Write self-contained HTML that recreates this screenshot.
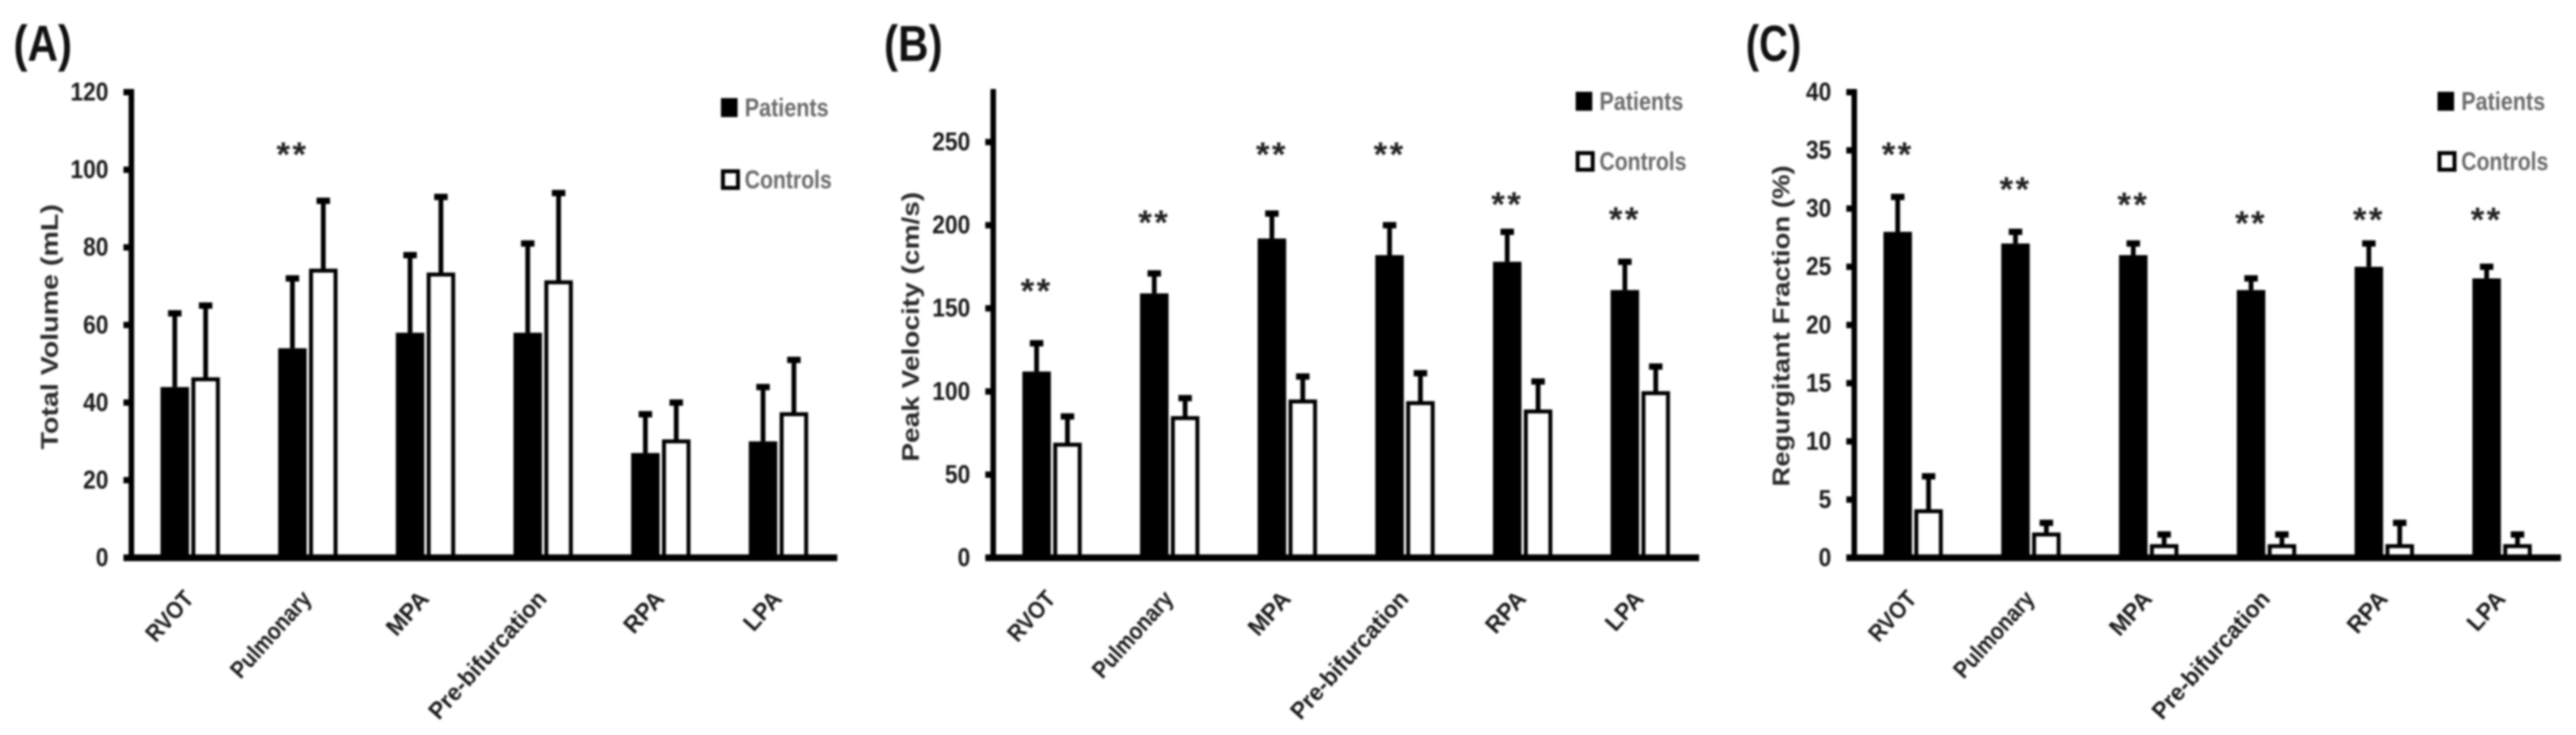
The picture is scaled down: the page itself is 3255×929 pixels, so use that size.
<!DOCTYPE html>
<html lang="en">
<head>
<meta charset="utf-8">
<title>Total Volume, Peak Velocity and Regurgitant Fraction</title>
<style>
html,body{margin:0;padding:0;background:#fff;width:3255px;height:929px;overflow:hidden}
svg{display:block;filter:blur(1.3px)}
text{font-family:"Liberation Sans",sans-serif}
</style>
</head>
<body>
<svg id="figure" xmlns="http://www.w3.org/2000/svg" width="3255" height="929" viewBox="0 0 3255 929"></svg>
<script>
const categories = ["RVOT", "Pulmonary", "MPA", "Pre-bifurcation", "RPA", "LPA"];

const volumeTicks = [0, 20, 40, 60, 80, 100, 120];
const volumePatients = [44, 54, 58, 58, 27, 30];
const volumePatientsTop = [63, 72, 78, 81, 37, 44];
const volumeControls = [46, 74, 73, 71, 30, 37];
const volumeControlsTop = [65, 92, 93, 94, 40, 51];
const volumeStars = [null, 105, null, null, null, null];

const velocityTicks = [0, 50, 100, 150, 200, 250];
const velocityPatients = [112, 159, 192, 182, 178, 161];
const velocityPatientsTop = [129, 171, 207, 200, 196, 178];
const velocityControls = [68, 84, 94, 93, 88, 99];
const velocityControlsTop = [85, 96, 109, 111, 106, 115];
const velocityStars = [163, 204, 245, 245, 215, 206];

const fractionTicks = [0, 5, 10, 15, 20, 25, 30, 35, 40];
const fractionPatients = [28, 27, 26, 23, 25, 24];
const fractionPatientsTop = [31, 28, 27, 24, 27, 25];
const fractionControls = [4, 2, 1, 1, 1, 1];
const fractionControlsTop = [7, 3, 2, 2, 3, 2];
const fractionStars = [35, 32, 30.7, 29.1, 29.4, 29.4];

const SVGNS = "http://www.w3.org/2000/svg";
const figure = document.getElementById("figure");
const categoryTextFit = {"RVOT": 74, "Pulmonary": 136, "MPA": 64, "Pre-bifurcation": 206, "RPA": 60, "LPA": 56};

function make(tag, attrs, parent, content) {
  const el = document.createElementNS(SVGNS, tag);
  for (const k in attrs) el.setAttribute(k, attrs[k]);
  if (content !== undefined) el.textContent = content;
  parent.appendChild(el);
  return el;
}

function drawPanel(cfg) {
  const top = 116.5, base = 705;
  const band = (cfg.right - cfg.left) / categories.length;
  const xCenter = i => cfg.left + band * (i + 0.5);
  const y = v => base - (v / cfg.max) * (base - top);
  const slug = cfg.slug;

  const panel = make("g", {}, figure);
  
  

  const letter = make("text", {x: cfg.letterX, y: 77, "font-size": 64, "font-weight": "bold", fill: "#111", textLength: cfg.letterLen, lengthAdjust: "spacingAndGlyphs"}, panel, cfg.letter);
  
  

  const title = make("text", {transform: "translate(" + cfg.titleX + "," + cfg.titleY + ") rotate(-90)", "text-anchor": "middle", "font-size": 31, "font-weight": "bold", fill: "#2a2a2a", textLength: cfg.titleLen, lengthAdjust: "spacingAndGlyphs"}, panel, cfg.title);
  
  

  cfg.ticks.forEach(t => {
    const mark = make("rect", {x: cfg.left - 10, y: y(t) - 4, width: 10, height: 8, fill: "#000"}, panel);
    
    
    const lab = make("text", {x: cfg.left - 29, y: y(t) + 10.5, "text-anchor": "end", "font-size": 32, "font-weight": "bold", fill: "#1a1a1a", textLength: String(t).length * 16, lengthAdjust: "spacingAndGlyphs"}, panel, String(t));
    
    
  });

  categories.forEach((c, i) => {
    const cx = xCenter(i);
    const pLeft = cx - 37.5, cLeft = cx + 1.5, w = 36;
    const pMid = cx - 19.5, cMid = cx + 19.5;

    const pErr = make("g", {fill: "#000"}, panel);
    
    
    make("rect", {x: pMid - 3, y: y(cfg.patientsTop[i]), width: 6, height: y(cfg.patients[i]) - y(cfg.patientsTop[i])}, pErr);
    make("rect", {x: pMid - 8.5, y: y(cfg.patientsTop[i]) - 4, width: 17, height: 8}, pErr);

    const cErr = make("g", {fill: "#000"}, panel);
    
    
    make("rect", {x: cMid - 3, y: y(cfg.controlsTop[i]), width: 6, height: y(cfg.controls[i]) - y(cfg.controlsTop[i])}, cErr);
    make("rect", {x: cMid - 8.5, y: y(cfg.controlsTop[i]) - 4, width: 17, height: 8}, cErr);

    const pBar = make("rect", {x: pLeft, y: y(cfg.patients[i]), width: w, height: base - y(cfg.patients[i]), fill: "#000"}, panel);
    
    

    const cBar = make("rect", {x: cLeft + 2.5, y: y(cfg.controls[i]), width: w - 5, height: Math.max(0, base - y(cfg.controls[i])), fill: "#fff", stroke: "#000", "stroke-width": 5}, panel);
    
    

    const cat = make("text", {transform: "translate(" + (cx + 6) + "," + (base + 53) + ") rotate(-48)", "text-anchor": "end", "font-size": 30, "font-weight": "bold", fill: "#1a1a1a", textLength: categoryTextFit[c], lengthAdjust: "spacingAndGlyphs"}, panel, c);
    
    

    if (cfg.stars[i] !== null) {
      const star = make("text", {x: pMid, y: y(cfg.stars[i]) + 20, "text-anchor": "middle", "font-size": 44, "font-weight": "bold", "letter-spacing": 3, fill: "#222"}, panel, "**");
      
      
    }
  });

  const yAxis = make("rect", {x: cfg.left - 3.5, y: top - 4, width: 7, height: base - top + 8, fill: "#000"}, panel);
  
  

  const xAxis = make("rect", {x: cfg.left - 10, y: base - 4.25, width: cfg.right - cfg.left + 10, height: 8.5, fill: "#000"}, panel);
  
  

  const legendP = make("g", {}, panel);
  
  
  make("rect", {x: cfg.legendX, y: cfg.legendY1 - 12, width: 21, height: 24, fill: "#000"}, legendP);
  make("text", {x: cfg.legendX + 30, y: cfg.legendY1 + 11, "font-size": 32, "font-weight": "bold", fill: "#6a6a6a", textLength: 106, lengthAdjust: "spacingAndGlyphs"}, legendP, "Patients");

  const legendC = make("g", {}, panel);
  
  
  make("rect", {x: cfg.legendX + 2.5, y: cfg.legendY2 - 10.5, width: 19, height: 21, fill: "#fff", stroke: "#000", "stroke-width": 5}, legendC);
  make("text", {x: cfg.legendX + 30, y: cfg.legendY2 + 11, "font-size": 32, "font-weight": "bold", fill: "#6a6a6a", textLength: 110, lengthAdjust: "spacingAndGlyphs"}, legendC, "Controls");
}

drawPanel({slug: "total-volume", letter: "(A)", letterX: 17, letterLen: 74, title: "Total Volume (mL)", titleX: 73, titleY: 413, titleLen: 310,
  left: 166, right: 1058, max: 120, ticks: volumeTicks,
  patients: volumePatients, patientsTop: volumePatientsTop, controls: volumeControls, controlsTop: volumeControlsTop, stars: volumeStars,
  legendX: 911, legendY1: 136, legendY2: 227});

drawPanel({slug: "peak-velocity", letter: "(B)", letterX: 1117, letterLen: 74, title: "Peak Velocity (cm/s)", titleX: 1161, titleY: 413, titleLen: 341,
  left: 1255, right: 2147, max: 280, ticks: velocityTicks,
  patients: velocityPatients, patientsTop: velocityPatientsTop, controls: velocityControls, controlsTop: velocityControlsTop, stars: velocityStars,
  legendX: 1991, legendY1: 128, legendY2: 204});

drawPanel({slug: "regurgitant-fraction", letter: "(C)", letterX: 2206, letterLen: 70, title: "Regurgitant Fraction (%)", titleX: 2261, titleY: 412, titleLen: 406,
  left: 2343, right: 3236, max: 40, ticks: fractionTicks,
  patients: fractionPatients, patientsTop: fractionPatientsTop, controls: fractionControls, controlsTop: fractionControlsTop, stars: fractionStars,
  legendX: 3080, legendY1: 128, legendY2: 204});
</script>
</body>
</html>
